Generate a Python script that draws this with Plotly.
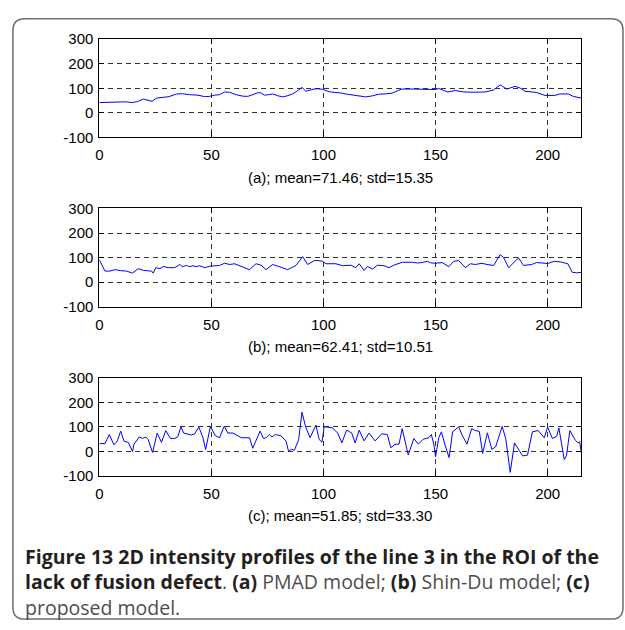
import plotly.graph_objects as go

# ---------------- data ----------------
xa = [0, 5, 10, 12, 14.5, 17, 19.6, 21.5, 23.5, 25.5, 29, 31, 34.5, 37, 40.3, 44, 47, 49, 51.4, 53.5,
      55.9, 58, 61, 64, 66.2, 68, 70.7, 72, 73.6, 75.5, 77.3, 79.5, 81.8, 84, 86.2, 88.4, 90.4, 92.1, 94,
      95.8, 97.5, 99.5, 102.5, 105, 108.4, 110.5, 112.9, 116, 118.8, 121.7, 124.7, 127, 130.6, 133, 135,
      140, 146.9, 149.9, 151.4, 153, 155.5, 158.8, 162.5, 167, 172.1, 175.8, 178.8, 180.5, 181.7, 183.5,
      185.5, 187.7, 189.9, 195.1, 198.8, 203.2, 205.4, 209.2, 211.4, 215]
ya = [42, 44, 45, 45, 42, 46, 56, 52, 47, 60, 64, 66, 77, 78, 74, 72, 66, 67, 72, 74,
      85, 84, 74, 68, 67, 72, 82, 82, 72, 74, 77, 70, 65, 70, 77, 90, 104, 88, 93,
      97, 98, 96, 86, 84, 80, 76, 72, 68, 65, 69, 76, 77, 80, 90, 97,
      97, 97, 95, 99, 93, 85, 91, 85, 84, 85, 93, 114, 104, 97, 102,
      108, 101, 88, 83, 71, 71, 77, 77, 67, 60]

xb = [0, 2.5, 4.7, 7, 9.5, 12.1, 14.8, 15.9, 17.3, 19.6, 21.5, 23.3, 24, 25.2, 27, 28.7, 30.7, 33.6,
      35.9, 37, 38.8, 40.3, 41.8, 43.2, 44.7, 47, 49.2, 51.5, 53.6, 55.9, 58.1, 60.3, 62.5, 64.5, 66.9,
      69.9, 72.1, 74.4, 77.3, 80.3, 82, 84, 87.7, 90.7, 92.9, 95.9, 97.5, 99.6, 101.1, 105.5, 108.5,
      112.2, 114.4, 115.9, 118.1, 119.6, 121.8, 124, 127, 129.2, 131.4, 135.1, 139.6, 142, 144, 146.3,
      147.7, 150, 152.9, 155.9, 158.1, 160.3, 163.3, 165.5, 167.7, 170.7, 172.9, 175.9, 178.8, 180.3,
      182.6, 184.8, 187, 189.2, 192.9, 195, 198, 200, 203, 206, 209, 211, 213, 215]
yb = [91, 45, 45, 51, 47, 45, 37, 45, 55, 48, 46, 45, 37, 59, 55, 64, 59, 59,
      72, 63, 68, 63, 67, 63, 67, 59, 65, 66, 68, 77, 72, 75, 67, 62, 51,
      75, 69, 51, 72, 63, 58, 51, 68, 104, 72, 88, 88, 85, 75, 75, 67,
      69, 59, 75, 48, 64, 53, 69, 67, 59, 69, 81, 81, 78, 80, 85,
      79, 77, 80, 63, 85, 88, 59, 75, 72, 77, 72, 68, 112, 101,
      59, 81, 99, 68, 72, 80, 78, 76, 85, 82, 75, 40, 38, 40]

xc = [0, 2.5, 4.4, 6.5, 8, 9.5, 11, 12.9, 14.8, 15.4, 17.8, 19.3, 20.7, 21.8, 23.7, 25.8, 27.7, 29.6,
      31.7, 33.6, 35, 36.4, 37.6, 41, 42.5, 44.4, 46.2, 47.4, 49.5, 51.8, 53.6, 55.7, 57.3, 59.6, 63.3,
      67, 68.4, 71.7, 73.2, 74.4, 75.8, 77, 78.5, 81, 83.3, 84.4, 85.6, 87, 88.9, 90.4, 92, 94, 96.6,
      98.1, 99.3, 100.3, 104, 106.3, 108.2, 110.3, 112.6, 114.1, 115.9, 118.1, 120.3, 123, 126, 128.5,
      130, 131.9, 133.7, 135.1, 137.8, 140.3, 142.3, 144.5, 147, 148.1, 149.2, 150, 151.4, 152.6, 154.1,
      156, 157.6, 160.3, 161.8, 164, 166.1, 167.7, 169.5, 171, 173.1, 175.1, 176.8, 179.7, 181.3, 183.3,
      185.2, 186.5, 188.8, 191, 193.2, 195.8, 198.5, 200, 202.1, 204, 205, 207.4, 208.4, 209.9, 212.4,
      213.6, 214.3, 215]
yc = [32, 32, 69, 27, 43, 83, 42, 37, 0, 29, 59, 53, 59, 48, -4, 75, 37, 85,
      53, 53, 60, 101, 75, 67, 72, 99, 56, 8, 101, 64, 56, 103, 75, 75, 56,
      56, 13, 83, 53, 56, 69, 59, 69, 64, 42, 0, 9, 5, 48, 160, 101, 56, 107,
      48, 38, 101, 96, 75, 35, 87, 75, 35, 87, 43, 75, 43, 72, 69,
      15, 29, 30, 93, -14, 53, 30, 50, 56, 69, 30, -21, 56, 80, 30,
      -25, 80, 100, 67, 30, 93, 85, 82, -8, 76, 8, 19, 102, 52, -85,
      35, 14, -18, -15, 80, 85, 56, 99, 53, 61, 96, -33, -17, 85, 45,
      35, 40, -5]

series = [(xa, ya), (xb, yb), (xc, yc)]
sub_captions = ["(a); mean=71.46; std=15.35",
                "(b); mean=62.41; std=10.51",
                "(c); mean=51.85; std=33.30"]
x_ticks = [0, 50, 100, 150, 200]
y_ticks = [-100, 0, 100, 200, 300]
x_range = [0, 215]
y_range = [-100, 300]

# ---------------- layout geometry (pixels) ----------------
W, H = 625, 630
px_l, px_r = 96, 581
tops = [31, 205, 379]
plot_h = 101


def fx(p):
    return p / W


def fy(p):
    return 1 - p / H


tick_font = dict(family="Liberation Sans, Arial, sans-serif", size=15, color="black")

fig = go.Figure()
layout = dict(
    width=W, height=H,
    margin=dict(l=0, r=0, t=0, b=0, pad=0),
    paper_bgcolor="white", plot_bgcolor="white",
    showlegend=False,
    font=tick_font,
)

for i, (xs, ys) in enumerate(series):
    n = "" if i == 0 else str(i + 1)
    fig.add_trace(go.Scatter(x=xs, y=ys, mode="lines",
                             line=dict(color="#0000ff", width=1),
                             xaxis="x" + n, yaxis="y" + n, hoverinfo="skip"))
    common = dict(showline=True, linecolor="black", linewidth=1, mirror="ticks",
                  ticks="inside", ticklen=5, tickcolor="black", tickwidth=1,
                  showgrid=True, gridcolor="#333333", gridwidth=1, griddash="5px,4px",
                  zeroline=False, tickfont=tick_font, fixedrange=True)
    layout["xaxis" + n] = dict(common, domain=[fx(px_l), fx(px_r)], range=x_range,
                               tickvals=x_ticks, ticktext=[str(v) for v in x_ticks],
                               anchor="y" + n, ticklabelstandoff=4)
    layout["yaxis" + n] = dict(common, domain=[fy(tops[i] + plot_h), fy(tops[i])], range=y_range,
                               tickvals=y_ticks, ticktext=[str(v) for v in y_ticks],
                               anchor="x" + n, ticklabelstandoff=2)

annotations = []
for i, cap in enumerate(sub_captions):
    annotations.append(dict(text=cap, x=fx((px_l + px_r) / 2), y=fy(tops[i] + 142),
                            xref="paper", yref="paper", xanchor="center", yanchor="middle",
                            showarrow=False, font=tick_font))

cap_font = dict(family="Open Sans, Noto Sans, sans-serif", size=19.5, color="#231f20")
grey = "#4d4d4f"
caption = (
    "<b>Figure 13 2D intensity profiles of the line 3 in the ROI of the</b><br>"
    "<b>lack of fusion defect</b><span style='color:%s'>. </span><b>(a)</b>"
    "<span style='color:%s'> PMAD model; </span><b>(b)</b>"
    "<span style='color:%s'> Shin-Du model; </span><b>(c)</b><br>"
    "<span style='color:%s'>proposed model.</span>" % (grey, grey, grey, grey)
)
annotations.append(dict(text=caption, x=fx(19), y=fy(589), xref="paper", yref="paper",
                        xanchor="left", yanchor="middle", align="left", showarrow=False,
                        font=cap_font))
layout["annotations"] = annotations

# rounded border
bl, bt, br, bb, rr = 9, 10, 623, 627, 12
path = (f"M {fx(bl + rr)},{fy(bt)} L {fx(br - rr)},{fy(bt)} Q {fx(br)},{fy(bt)} {fx(br)},{fy(bt + rr)} "
        f"L {fx(br)},{fy(bb - rr)} Q {fx(br)},{fy(bb)} {fx(br - rr)},{fy(bb)} "
        f"L {fx(bl + rr)},{fy(bb)} Q {fx(bl)},{fy(bb)} {fx(bl)},{fy(bb - rr)} "
        f"L {fx(bl)},{fy(bt + rr)} Q {fx(bl)},{fy(bt)} {fx(bl + rr)},{fy(bt)} Z")
layout["shapes"] = [dict(type="path", path=path, xref="paper", yref="paper",
                         line=dict(color="#6d6e70", width=1.5), layer="below")]

fig.update_layout(**layout)
fig.write_html("out.html", config={"displayModeBar": False},
               post_script="document.body.style.margin='0';document.body.style.overflow='hidden';")
